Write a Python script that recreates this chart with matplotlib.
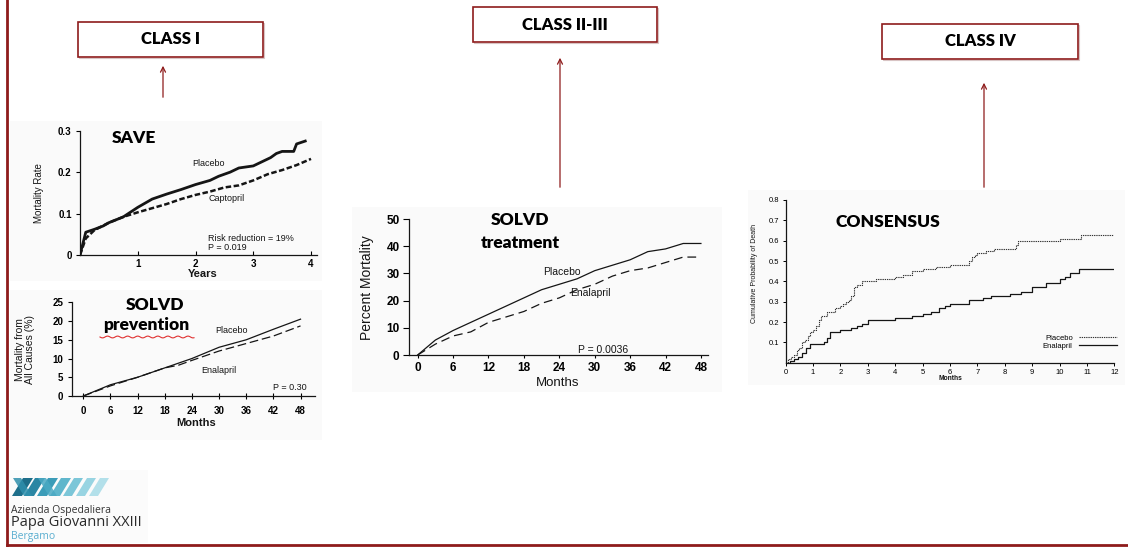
import matplotlib
matplotlib.use("Agg")
import matplotlib.pyplot as plt
from matplotlib.patches import Rectangle, FancyArrowPatch, Polygon
from matplotlib.lines import Line2D
import numpy as np

# ---------------- data ----------------
# SAVE (years, mortality rate)
save_placebo_t = [0.0, 0.1, 0.25, 0.4, 0.5, 0.75, 1.0, 1.25, 1.5, 1.75, 2.0, 2.25, 2.4,
                  2.5, 2.6, 2.75, 3.0, 3.15, 3.3, 3.4, 3.5, 3.7, 3.75, 3.9]
save_placebo = [0.0, 0.055, 0.062, 0.07, 0.078, 0.092, 0.115, 0.135, 0.147, 0.158, 0.17,
                0.18, 0.19, 0.195, 0.2, 0.21, 0.215, 0.225, 0.235, 0.245, 0.25, 0.25,
                0.268, 0.275]
save_captopril_t = [0.0, 0.1, 0.25, 0.5, 0.75, 1.0, 1.25, 1.5, 1.75, 2.0, 2.25, 2.5, 2.75,
                    3.0, 3.25, 3.5, 3.75, 4.0]
save_captopril = [0.0, 0.04, 0.06, 0.078, 0.092, 0.103, 0.113, 0.123, 0.135, 0.145, 0.153,
                  0.163, 0.168, 0.18, 0.195, 0.205, 0.217, 0.232]
save_xticks = [1, 2, 3, 4]
save_yticks = [0, 0.1, 0.2, 0.3]
save_ylabels = ["0", "0.1", "0.2", "0.3"]

# SOLVD prevention (months, % mortality from all causes)
prev_months = [0, 6, 12, 18, 24, 30, 36, 42, 48]
prev_placebo = [0, 3.0, 5.0, 7.5, 10.0, 13.0, 15.0, 17.8, 20.5]
prev_enal_months = [0, 6, 12, 18, 21, 24, 30, 36, 42, 48]
prev_enalapril = [0, 2.7, 5.0, 7.5, 8.2, 9.5, 12.0, 14.0, 16.0, 18.7]
prev_yticks = [0, 5, 10, 15, 20, 25]

# SOLVD treatment (months, percent mortality)
treat_months = [0, 3, 6, 9, 12, 15, 18, 21, 24, 27, 30, 33, 36, 39, 42, 45, 48]
treat_placebo = [0, 5.5, 9, 12, 15, 18, 21, 24, 26, 28, 31, 33, 35, 38, 39, 41, 41]
treat_enalapril = [0, 4, 7, 8.5, 12, 14, 16, 19, 21, 24, 26, 29, 31, 32, 34, 36, 36]
treat_yticks = [0, 10, 20, 30, 40, 50]

month_ticks = [0, 6, 12, 18, 24, 30, 36, 42, 48]

# CONSENSUS (months, cumulative probability of death)
cons_placebo_t = [0, 0.1, 0.2, 0.3, 0.4, 0.5, 0.6, 0.7, 0.8, 0.9, 1.0, 1.1, 1.2, 1.3, 1.5,
                  1.8, 2.0, 2.1, 2.2, 2.3, 2.4, 2.5, 2.6, 2.8, 3.3, 4.0, 4.3, 4.6, 5.0,
                  5.5, 6.0, 6.7, 6.8, 6.9, 7.0, 7.3, 7.6, 8.4, 8.5, 10.0, 10.8, 12]
cons_placebo = [0, 0.02, 0.03, 0.04, 0.06, 0.07, 0.10, 0.11, 0.13, 0.15, 0.16, 0.18, 0.21,
                0.23, 0.25, 0.27, 0.28, 0.29, 0.30, 0.31, 0.33, 0.37, 0.38, 0.40, 0.41,
                0.42, 0.43, 0.45, 0.46, 0.47, 0.48, 0.50, 0.52, 0.53, 0.54, 0.55, 0.56,
                0.58, 0.60, 0.61, 0.63, 0.63]
cons_enal_t = [0, 0.15, 0.3, 0.45, 0.6, 0.75, 0.9, 1.4, 1.5, 1.6, 2.0, 2.4, 2.6, 2.8, 3.0,
               4.0, 4.6, 5.0, 5.3, 5.6, 5.8, 6.0, 6.7, 7.2, 7.5, 8.2, 8.6, 9.0, 9.5, 10.0,
               10.2, 10.4, 10.7, 12]
cons_enalapril = [0, 0.01, 0.02, 0.03, 0.05, 0.07, 0.09, 0.10, 0.12, 0.15, 0.16, 0.17,
                  0.18, 0.19, 0.21, 0.22, 0.23, 0.24, 0.25, 0.27, 0.28, 0.29, 0.31, 0.32,
                  0.33, 0.34, 0.35, 0.37, 0.39, 0.41, 0.42, 0.44, 0.46, 0.46]
cons_xticks = list(range(13))
cons_yticks = [0.1, 0.2, 0.3, 0.4, 0.5, 0.6, 0.7, 0.8]

class_labels = ["CLASS I", "CLASS II-III", "CLASS IV"]

# ---------------- figure ----------------
W, H = 1128, 550
fig = plt.figure(figsize=(W / 100, H / 100), dpi=100)
fig.patch.set_facecolor("white")

TITLE = ["Lato", "DejaVu Sans"]
SCAN = ["Liberation Sans", "DejaVu Sans"]
NARROW = ["Liberation Sans Narrow", "Liberation Sans", "DejaVu Sans"]
RED = "#8e1b1b"
INK = "#151515"


def fx(x):
    return x / W


def fy(y):
    return 1 - y / H


def make_axes(left, right, top, bottom):
    ax = fig.add_axes([fx(left), fy(bottom), (right - left) / W, (bottom - top) / H])
    ax.set_facecolor("none")
    for s in ("top", "right"):
        ax.spines[s].set_visible(False)
    for s in ("left", "bottom"):
        ax.spines[s].set_color(INK)
        ax.spines[s].set_linewidth(0.9)
    return ax


def ftext(x, y, s, **kw):
    return fig.text(fx(x), fy(y), s, **kw)


def panel_bg(x0, y0, x1, y1, color="#fafafa"):
    fig.add_artist(Rectangle((fx(x0), fy(y1)), (x1 - x0) / W, (y1 - y0) / H,
                             transform=fig.transFigure, facecolor=color,
                             edgecolor="none", zorder=0))


# slide frame
fig.add_artist(Line2D([fx(7), fx(7)], [1, fy(545)], color=RED, lw=2))
fig.add_artist(Line2D([fx(7), 1], [fy(545), fy(545)], color=RED, lw=2))

# faint scanned-figure backgrounds
panel_bg(10, 121, 322, 281)
panel_bg(10, 290, 322, 440)
panel_bg(352, 207, 722, 392)
panel_bg(748, 190, 1125, 385)
panel_bg(9, 470, 148, 543, color="#fbfbfb")

# ---------------- class boxes and arrows ----------------
boxes = [(78, 22, 263, 57), (473, 7, 657, 42), (882, 24, 1078, 59)]
for (x0, y0, x1, y1), lab in zip(boxes, class_labels):
    fig.add_artist(Rectangle((fx(x0 + 1), fy(y1 + 1)), (x1 - x0) / W, (y1 - y0) / H,
                             transform=fig.transFigure, facecolor="none",
                             edgecolor="#d8c4c4", lw=0.8))
    fig.add_artist(Rectangle((fx(x0), fy(y1)), (x1 - x0) / W, (y1 - y0) / H,
                             transform=fig.transFigure, facecolor="white",
                             edgecolor=RED, lw=1.2))
    ftext((x0 + x1) / 2, (y0 + y1) / 2, lab, ha="center", va="center",
          fontsize=12, fontweight="heavy", family=TITLE, color="black")

arrows = [(163, 100, 63), (560, 190, 55), (984, 190, 80)]
for x, yb, yt in arrows:
    fig.add_artist(FancyArrowPatch((fx(x), fy(yb)), (fx(x), fy(yt)),
                                   transform=fig.transFigure, arrowstyle="->",
                                   mutation_scale=9, color=RED, lw=0.9))

# ---------------- SAVE ----------------
ax1 = make_axes(80, 316.8, 130.7, 255)
ax1.plot(save_placebo_t, save_placebo, color=INK, lw=2.0, solid_joinstyle="round")
ax1.plot(save_captopril_t, save_captopril, color=INK, lw=1.8, ls=(0, (2.2, 1.0)))
ax1.set_xlim(0, 4.1)
ax1.set_ylim(0, 0.3)
ax1.set_xticks(save_xticks)
ax1.set_yticks(save_yticks)
ax1.set_yticklabels(save_ylabels)
ax1.tick_params(axis="x", direction="in", length=3, width=0.8, labelsize=7, pad=3)
ax1.tick_params(axis="y", direction="out", length=3, width=0.8, labelsize=7, pad=3)
for t in ax1.get_xticklabels() + ax1.get_yticklabels():
    t.set_family(SCAN)
    t.set_fontweight("bold")
ax1.text(2.22, 0.22, "Placebo", fontsize=6.5, family=SCAN, ha="center", va="center", color=INK)
ax1.text(2.53, 0.136, "Captopril", fontsize=6.5, family=SCAN, ha="center", va="center", color=INK)
ax1.text(2.22, 0.030, "Risk reduction = 19%\nP = 0.019", fontsize=6.5, family=SCAN,
         ha="left", va="center", linespacing=1.0, color=INK)
ftext(203, 274, "Years", fontsize=8, family=SCAN, fontweight="bold", ha="center", va="center", color=INK)
ftext(39, 193, "Mortality Rate", fontsize=7, family=NARROW, rotation=90, ha="center", va="center", color=INK)
ftext(134, 138, "SAVE", fontsize=12.5, fontweight="heavy", family=TITLE, ha="center", va="center")

# ---------------- SOLVD prevention ----------------
ax2 = make_axes(71.7, 315, 302.3, 396)
ax2.plot(prev_months, prev_placebo, color=INK, lw=0.9)
ax2.plot(prev_enal_months, prev_enalapril, color=INK, lw=0.9, ls=(0, (7, 3)))
ax2.set_xlim(-2.56, 51.2)
ax2.set_ylim(0, 25)
ax2.set_xticks(month_ticks)
ax2.set_yticks(prev_yticks)
ax2.tick_params(axis="x", direction="inout", length=5, width=0.8, labelsize=7, pad=5)
ax2.tick_params(axis="y", direction="out", length=3, width=0.8, labelsize=7, pad=3)
for t in ax2.get_xticklabels() + ax2.get_yticklabels():
    t.set_family(SCAN)
    t.set_fontweight("bold")
ax2.text(32.8, 17.6, "Placebo", fontsize=6.5, family=SCAN, ha="center", va="center", color=INK)
ax2.text(30.0, 6.9, "Enalapril", fontsize=6.5, family=SCAN, ha="center", va="center", color=INK)
ax2.text(45.6, 2.4, "P = 0.30", fontsize=6.5, family=SCAN, ha="center", va="center", color=INK)
ftext(196, 423, "Months", fontsize=8, family=SCAN, fontweight="bold", ha="center", va="center", color=INK)
ftext(25, 350, "Mortality from\nAll Causes (%)", fontsize=7.5, family=NARROW, rotation=90,
      ha="center", va="center", linespacing=1.05, color=INK)
ftext(155, 305, "SOLVD", fontsize=12.5, fontweight="heavy", family=TITLE, ha="center", va="center")
ftext(146, 325, "prevention", fontsize=12.5, fontweight="heavy", family=TITLE, ha="center", va="center")
wx = np.linspace(100, 194, 120)
wy = 337 + 0.9 * np.sin((wx - 100) / 1.6)
fig.add_artist(Line2D(fx(wx), fy(wy), color="#e03030", lw=0.8))

# ---------------- SOLVD treatment ----------------
ax3 = make_axes(409.3, 708, 219, 355)
ax3.plot(treat_months, treat_placebo, color=INK, lw=0.9)
ax3.plot(treat_months, treat_enalapril, color=INK, lw=0.9, ls=(0, (7, 4)))
ax3.set_xlim(-1.42, 49.2)
ax3.set_ylim(0, 50)
ax3.set_xticks(month_ticks)
ax3.set_yticks(treat_yticks)
ax3.tick_params(axis="x", direction="out", length=2, width=0.8, labelsize=8.5, pad=3)
ax3.tick_params(axis="y", direction="out", length=4, width=0.8, labelsize=8.5, pad=3)
for t in ax3.get_xticklabels() + ax3.get_yticklabels():
    t.set_family(SCAN)
    t.set_fontweight("bold")
ax3.text(24.4, 30.6, "Placebo", fontsize=7.5, family=SCAN, ha="center", va="center", color=INK)
ax3.text(29.2, 22.7, "Enalapril", fontsize=7.5, family=SCAN, ha="center", va="center", color=INK)
ax3.text(31.5, 1.9, "P = 0.0036", fontsize=7.5, family=SCAN, ha="center", va="center", color=INK)
ftext(558, 383, "Months", fontsize=9.5, family=SCAN, ha="center", va="center", color=INK)
ftext(367, 288, "Percent Mortality", fontsize=10, family=NARROW, rotation=90,
      ha="center", va="center", color=INK)
ftext(520, 220, "SOLVD", fontsize=12.5, fontweight="heavy", family=TITLE, ha="center", va="center")
ftext(520, 243, "treatment", fontsize=12.5, fontweight="heavy", family=TITLE, ha="center", va="center")

# ---------------- CONSENSUS ----------------
ax4 = make_axes(785.7, 1114.3, 200, 362.7)
lp, = ax4.step(cons_placebo_t, cons_placebo, where="post", color="#333333", lw=0.8,
               ls=(0, (1.2, 0.8)), label="Placebo")
le, = ax4.step(cons_enal_t, cons_enalapril, where="post", color=INK, lw=0.9, label="Enalapril")
ax4.set_xlim(0, 12)
ax4.set_ylim(0, 0.8)
ax4.set_xticks(cons_xticks)
ax4.set_yticks(cons_yticks)
ax4.set_yticklabels([f"{v:.1f}" for v in cons_yticks])
ax4.tick_params(axis="both", direction="out", length=2.5, width=0.7, labelsize=5.5, pad=2)
for t in ax4.get_xticklabels() + ax4.get_yticklabels():
    t.set_family(SCAN)
ax4.legend(handles=[lp, le], loc="lower right", bbox_to_anchor=(fx(1117), fy(350)),
           bbox_transform=fig.transFigure, frameon=False, markerfirst=False,
           prop={"family": SCAN, "size": 5.5}, handlelength=5, handletextpad=0.8,
           labelspacing=0.15, borderpad=0, borderaxespad=0)
ftext(950, 378, "Months", fontsize=4.8, family=SCAN, fontweight="bold", ha="center", va="center", color=INK)
ftext(755, 273, "Cumulative Probability of Death", fontsize=5, family=NARROW, rotation=90,
      ha="center", va="center", color=INK)
ftext(888, 222, "CONSENSUS", fontsize=12.5, fontweight="heavy", family=TITLE, ha="center", va="center")

# ---------------- hospital logo ----------------
logo_cols = ["#1d6e8a", "#2a86a3", "#3b9cb8", "#5fb6cc", "#7cc6d8", "#98d4e2", "#b3e0ea"]
bars = [(12, 10), (24, 10), (37, 10), (50, 10), (63, 9), (76, 9), (89, 9)]
for (bx, bw), c in zip(bars, logo_cols):
    poly = [(fx(bx), fy(496)), (fx(bx + bw), fy(496)), (fx(bx + bw + 11), fy(478)), (fx(bx + 11), fy(478))]
    fig.add_artist(Polygon(poly, closed=True, transform=fig.transFigure, facecolor=c,
                           edgecolor="none"))
for bx, c in [(13, "#2e8fac"), (38, "#4aa9c3")]:
    poly = [(fx(bx), fy(478)), (fx(bx + 8), fy(478)), (fx(bx + 19), fy(496)), (fx(bx + 11), fy(496))]
    fig.add_artist(Polygon(poly, closed=True, transform=fig.transFigure, facecolor=c,
                           edgecolor="none", alpha=0.85))
ftext(11, 510, "Azienda Ospedaliera", fontsize=7.5, family=["Open Sans", "DejaVu Sans"],
      color="#333333", ha="left", va="center")
ftext(11, 523, "Papa Giovanni XXIII", fontsize=10.5, family=["Open Sans", "DejaVu Sans"],
      color="#2a2a2a", ha="left", va="center")
ftext(11, 536, "Bergamo", fontsize=7.5, family=["Open Sans", "DejaVu Sans"],
      color="#5aaed0", ha="left", va="center")

fig.savefig("out.png", dpi=100, facecolor="white")
